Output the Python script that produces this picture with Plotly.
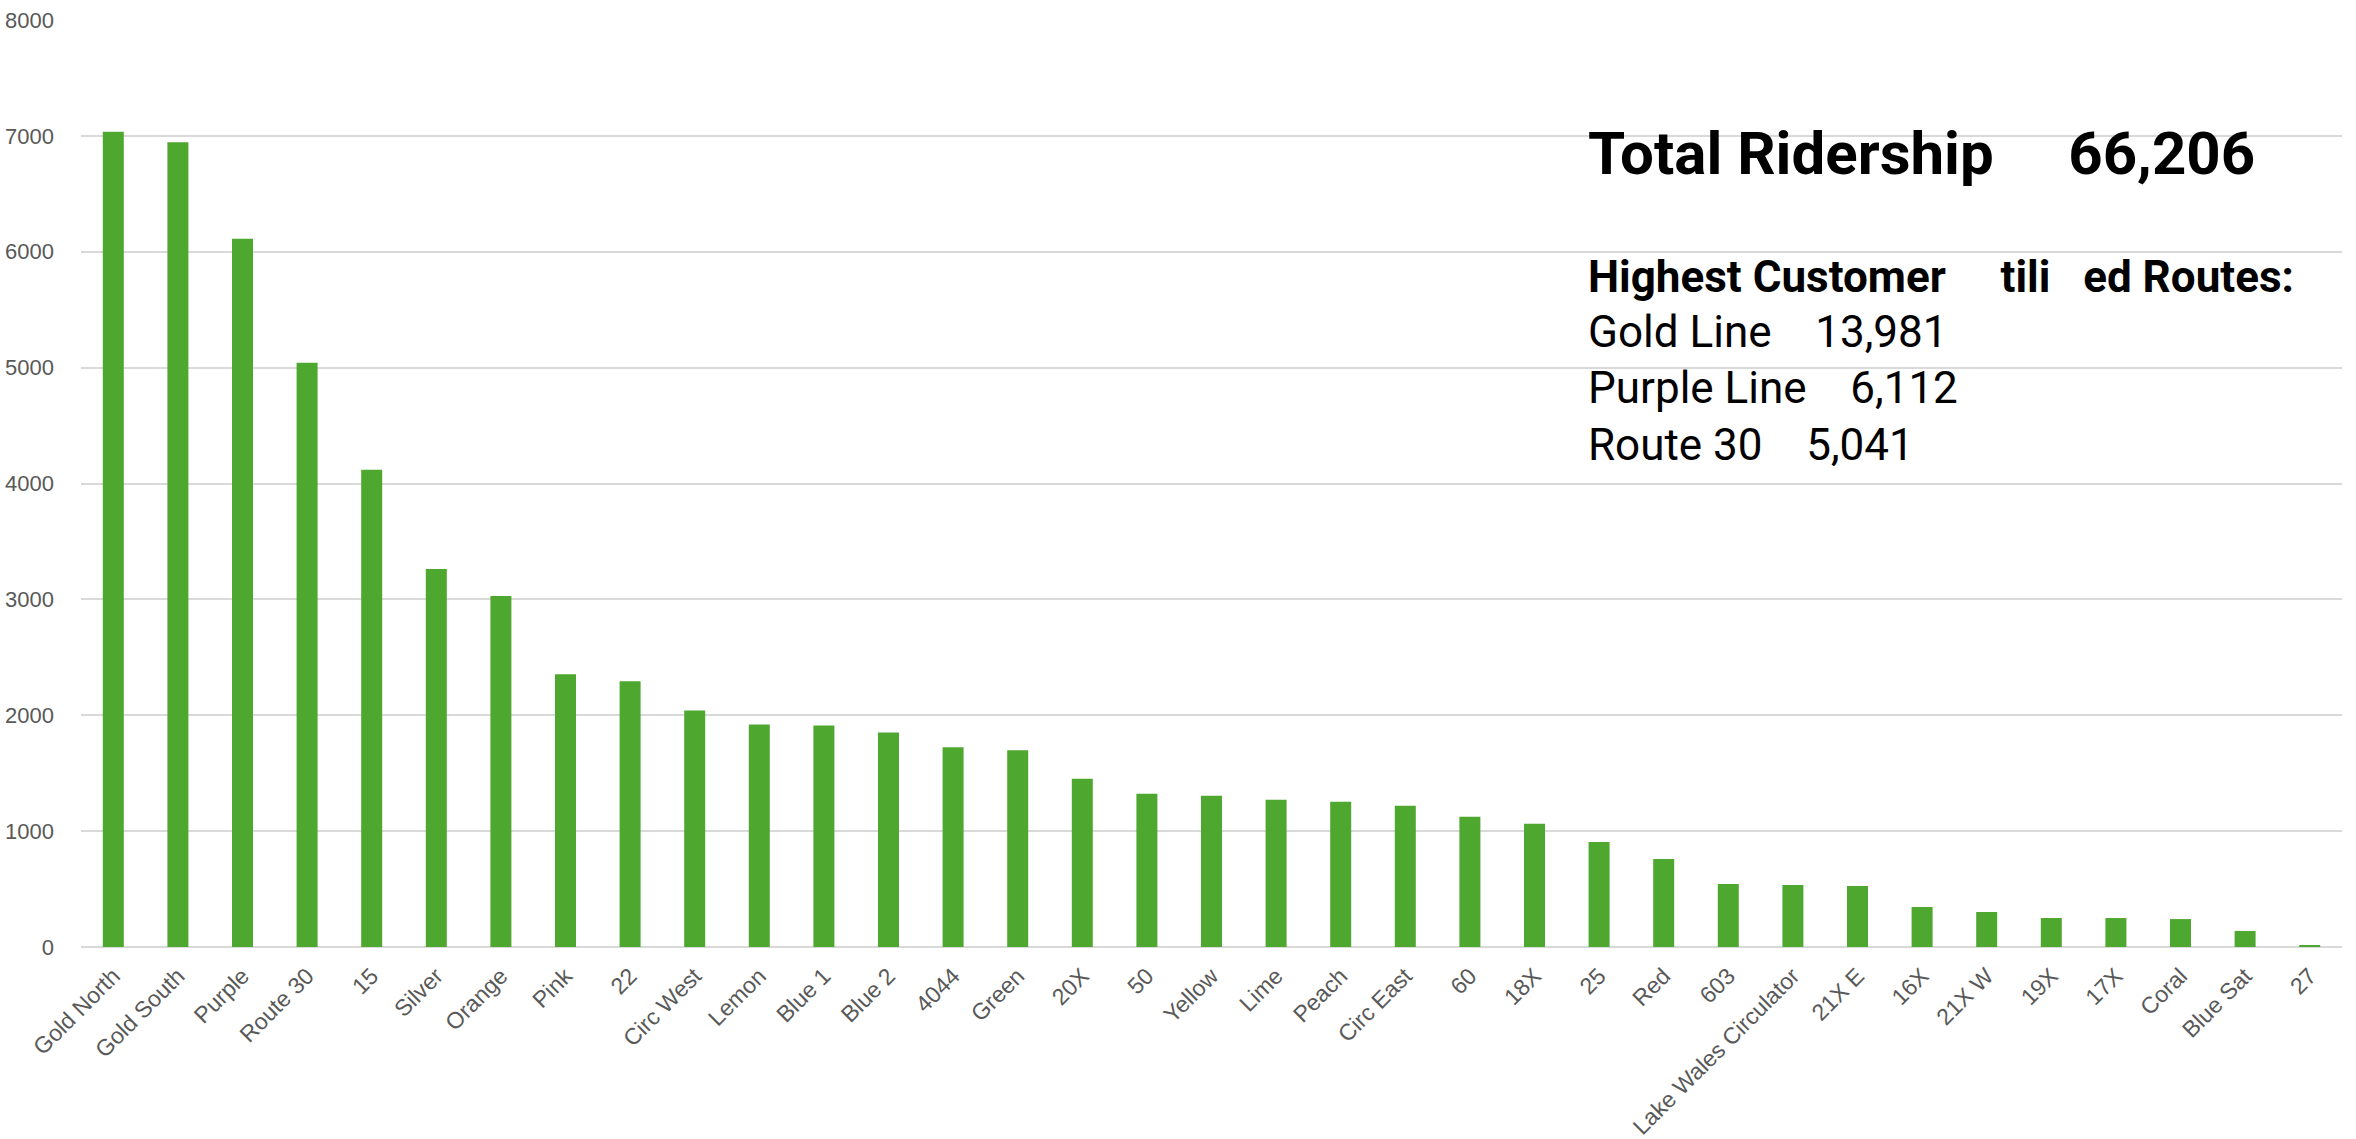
import plotly.graph_objects as go

routes = ["Gold North", "Gold South", "Purple", "Route 30", "15", "Silver", "Orange", "Pink",
          "22", "Circ West", "Lemon", "Blue 1", "Blue 2", "4044", "Green", "20X", "50", "Yellow",
          "Lime", "Peach", "Circ East", "60", "18X", "25", "Red", "603", "Lake Wales Circulator",
          "21X E", "16X", "21X W", "19X", "17X", "Coral", "Blue Sat", "27"]
ridership = [7035, 6946, 6112, 5041, 4118, 3262, 3029, 2354,
             2294, 2040, 1920, 1911, 1851, 1723, 1697, 1451, 1323, 1305,
             1271, 1254, 1219, 1124, 1063, 907, 759, 544, 535,
             526, 345, 302, 250, 250, 241, 138, 10]

y_ticks = [0, 1000, 2000, 3000, 4000, 5000, 6000, 7000, 8000]

summary_title = "Total Ridership\u00a0\u00a0\u00a0\u00a0\u00a066,206"
summary_header = "Highest Customer\u00a0\u00a0\u00a0\u00a0\u00a0tili\u00a0\u00a0\u00a0ed Routes:"
summary_lines = ["Gold Line\u00a0\u00a0\u00a0\u00a013,981",
                 "Purple Line\u00a0\u00a0\u00a0\u00a06,112",
                 "Route 30\u00a0\u00a0\u00a0\u00a05,041"]

W, H = 2356, 1139
L, R, T, B = 81, 14, 20, 192
plot_h = H - T - B
plot_w = W - L - R

def py(y):
    return (H - B - y) / plot_h

def px(x):
    return (x - L) / plot_w

fig = go.Figure()
fig.add_trace(go.Bar(x=routes, y=ridership, marker=dict(color="#4EA72E", line=dict(width=0)),
                     hoverinfo="x+y"))

ann_font = "Roboto, Arial, sans-serif"
annotations = [
    dict(text="<b>" + summary_title + "</b>", x=px(1586), y=py(153), size=60),
    dict(text="<b>" + summary_header + "</b>", x=px(1586), y=py(277), size=44),
    dict(text=summary_lines[0], x=px(1586), y=py(332), size=44),
    dict(text=summary_lines[1], x=px(1586), y=py(388), size=44),
    dict(text=summary_lines[2], x=px(1586), y=py(445), size=44),
]
for a in annotations:
    fig.add_annotation(text=a["text"], x=a["x"], y=a["y"], xref="paper", yref="paper",
                       xanchor="left", yanchor="middle", showarrow=False,
                       font=dict(family=ann_font, size=a["size"], color="#000000"))

fig.update_layout(
    width=W, height=H, autosize=False,
    margin=dict(l=L, r=R, t=T, b=B),
    paper_bgcolor="white", plot_bgcolor="white",
    bargap=0.675, showlegend=False,
    font=dict(family="Liberation Sans, Arial, sans-serif", size=22, color="#595959"),
)
fig.update_yaxes(range=[0, 8000], tickvals=y_ticks, ticktext=[str(v) for v in y_ticks],
                 showgrid=True, gridcolor="#D9D9D9", gridwidth=2,
                 zeroline=True, zerolinecolor="#D9D9D9", zerolinewidth=2,
                 showline=False, ticks="", ticklabelstandoff=26, automargin=False,
                 tickfont=dict(size=22, color="#595959"))
fig.update_xaxes(tickangle=-45, showgrid=False, showline=False, ticks="",
                 ticklabelstandoff=10, automargin=False,
                 tickfont=dict(size=23, color="#595959"))

fig.write_html("out.html")
